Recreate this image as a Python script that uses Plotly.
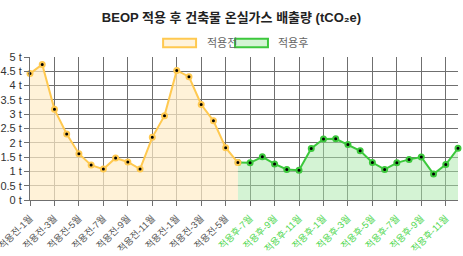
import plotly.graph_objects as go

before_labels = ["적용전-1월", "적용전-2월", "적용전-3월", "적용전-4월", "적용전-5월", "적용전-6월",
                 "적용전-7월", "적용전-8월", "적용전-9월", "적용전-10월", "적용전-11월", "적용전-12월",
                 "적용전-1월", "적용전-2월", "적용전-3월", "적용전-4월", "적용전-5월", "적용전-6월"]
after_labels = ["적용후-7월", "적용후-8월", "적용후-9월", "적용후-10월", "적용후-11월", "적용후-12월",
                "적용후-1월", "적용후-2월", "적용후-3월", "적용후-4월", "적용후-5월", "적용후-6월",
                "적용후-7월", "적용후-8월", "적용후-9월", "적용후-10월", "적용후-11월", "적용후-12월"]
before_values = [4.42, 4.74, 3.17, 2.31, 1.62, 1.22, 1.08, 1.47, 1.33, 1.08, 2.19, 2.95,
                 4.53, 4.31, 3.34, 2.77, 1.83, 1.31]
after_values = [1.30, 1.51, 1.26, 1.07, 1.04, 1.80, 2.13, 2.14, 1.94, 1.72, 1.31, 1.07,
                1.30, 1.42, 1.50, 0.91, 1.24, 1.81]
y_ticks = [0, 0.5, 1, 1.5, 2, 2.5, 3, 3.5, 4, 4.5, 5]

categories = before_labels + after_labels
idx = list(range(len(categories)))
nb = len(before_labels)

ORANGE = "rgb(255,201,80)"
ORANGE_FILL = "rgba(255,236,200,0.7)"
GREEN = "rgb(60,200,60)"
GREEN_FILL = "rgba(170,232,170,0.5)"
GRID = "#6f6f6f"
FONT = "Liberation Sans, Noto Sans CJK KR, sans-serif"

fig = go.Figure()

# after (drawn first so the bridging 'before' marker sits on top)
fig.add_trace(go.Scatter(
    x=[idx[nb - 1]] + idx[nb:], y=[before_values[-1]] + after_values,
    mode="lines+markers", fill="tozeroy", fillcolor=GREEN_FILL,
    line=dict(color=GREEN, width=2),
    marker=dict(color="black", size=5, line=dict(color=GREEN, width=2)),
    name="적용후", showlegend=False, hoverinfo="skip", cliponaxis=False))
fig.add_trace(go.Scatter(
    x=idx[:nb], y=before_values,
    mode="lines+markers", fill="tozeroy", fillcolor=ORANGE_FILL,
    line=dict(color=ORANGE, width=2),
    marker=dict(color="black", size=5, line=dict(color=ORANGE, width=2)),
    name="적용전", showlegend=False, hoverinfo="skip", cliponaxis=False))

tickvals = idx[::2]
ticktext = []
for i in tickvals:
    lab = categories[i]
    col = "#555555" if i < nb else "rgb(80,215,80)"
    ticktext.append(f"<span style='color:{col}'>{lab}</span>")

fig.update_xaxes(range=[0, len(categories) - 1], tickmode="array", tickvals=tickvals,
                 ticktext=ticktext, tickangle=-45, showgrid=True, gridcolor=GRID, gridwidth=1,
                 ticks="outside", ticklen=5, tickcolor=GRID, zeroline=False,
                 showline=True, linecolor=GRID, linewidth=1, ticklabeloverflow="allow",
                 ticklabelstandoff=3,
                 automargin=False, tickfont=dict(size=9.5, family=FONT))
fig.update_yaxes(range=[0, 5], tickmode="array", tickvals=y_ticks,
                 ticktext=[f"{v:g} t" for v in y_ticks], ticklabeloverflow="allow",
                 showgrid=True, gridcolor=GRID, gridwidth=1, ticks="outside", ticklen=5,
                 tickcolor=GRID, zeroline=False, showline=True, linecolor=GRID,
                 automargin=False, tickfont=dict(size=11, family=FONT, color="#333333"))

# legend drawn as boxes + labels
legend_items = [("적용전", ORANGE, "rgb(255,243,220)", 0.311, 0.388, 0.408),
                ("적용후", GREEN, "rgb(212,244,212)", 0.479, 0.556, 0.575)]
for name, lc, fc, x0, x1, xt in legend_items:
    fig.add_shape(type="rect", xref="paper", yref="paper", x0=x0, x1=x1, y0=1.068, y1=1.128,
                  line=dict(color=lc, width=2), fillcolor=fc)
    fig.add_annotation(text=name, xref="paper", yref="paper", x=xt, y=1.098, xanchor="left",
                       yanchor="middle", showarrow=False,
                       font=dict(size=11, family=FONT, color="#666666"))

fig.update_layout(
    width=463, height=256, margin=dict(l=30, r=5, t=57, b=56),
    paper_bgcolor="white", plot_bgcolor="white",
    title=dict(text="<b>BEOP 적용 후 건축물 온실가스 배출량 (tCO₂e)</b>", x=0.5, xanchor="center",
               y=1 - 17 / 256, yanchor="middle", yref="container",
               font=dict(size=13, family=FONT, color="#222222")),
    font=dict(family=FONT),
)

fig.write_html("out.html")
